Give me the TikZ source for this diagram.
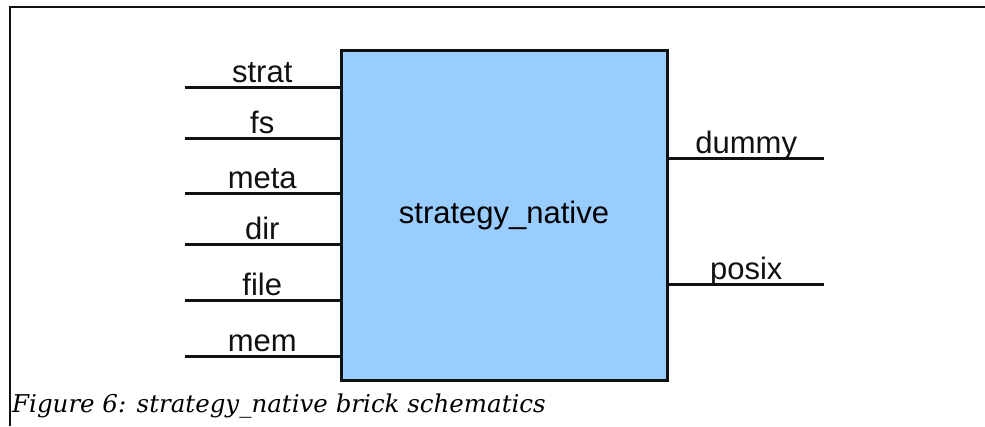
\documentclass[tikz,border=0pt]{standalone}
\usepackage{fontspec}
\setmainfont{Liberation Sans}
\newfontfamily\captionfont{DejaVu Serif}
\definecolor{brickblue}{HTML}{99CCFF}
\definecolor{ink}{HTML}{111111}
\begin{document}
\begin{tikzpicture}[x=1pt, y=-1pt,
  frame/.style={line width=2pt, ink},
  wire/.style={line width=3pt, ink},
  brickbox/.style={draw=ink, line width=3pt, fill=brickblue, inner sep=0pt,
    minimum width=326pt, minimum height=330pt,
    font=\fontsize{31}{31}\selectfont},
  portlabel/.style={font=\fontsize{31}{31}\selectfont, anchor=base, inner sep=0pt, yshift=5pt}]
\useasboundingbox (0,0) rectangle (985,426);

% page frame (left and top rules)
\draw[frame] (10,426) -- (10,7) -- (985,7);

% the brick
\node[brickbox] (brick) at (504,215) {strategy\_native};

% input ports (left)
\coordinate (i1) at (185,87);
\coordinate (i2) at (185,138);
\coordinate (i3) at (185,193);
\coordinate (i4) at (185,244);
\coordinate (i5) at (185,300);
\coordinate (i6) at (185,356);
\draw[wire] (i1) -- (i1 -| brick.west) node[portlabel, midway] {strat};
\draw[wire] (i2) -- (i2 -| brick.west) node[portlabel, midway] {fs};
\draw[wire] (i3) -- (i3 -| brick.west) node[portlabel, midway] {meta};
\draw[wire] (i4) -- (i4 -| brick.west) node[portlabel, midway] {dir};
\draw[wire] (i5) -- (i5 -| brick.west) node[portlabel, midway] {file};
\draw[wire] (i6) -- (i6 -| brick.west) node[portlabel, midway] {mem};

% output ports (right)
\coordinate (o1) at (824,158);
\coordinate (o2) at (824,284);
\draw[wire] (o1 -| brick.east) -- (o1) node[portlabel, midway] {dummy};
\draw[wire] (o2 -| brick.east) -- (o2) node[portlabel, midway] {posix};

% caption
\node[anchor=base west, inner sep=0pt,
  font=\captionfont\itshape\fontsize{24.5}{24.5}\selectfont] (caption) at (12,412)
  {Figure 6: strategy\_native brick schematics};
\end{tikzpicture}
\end{document}
